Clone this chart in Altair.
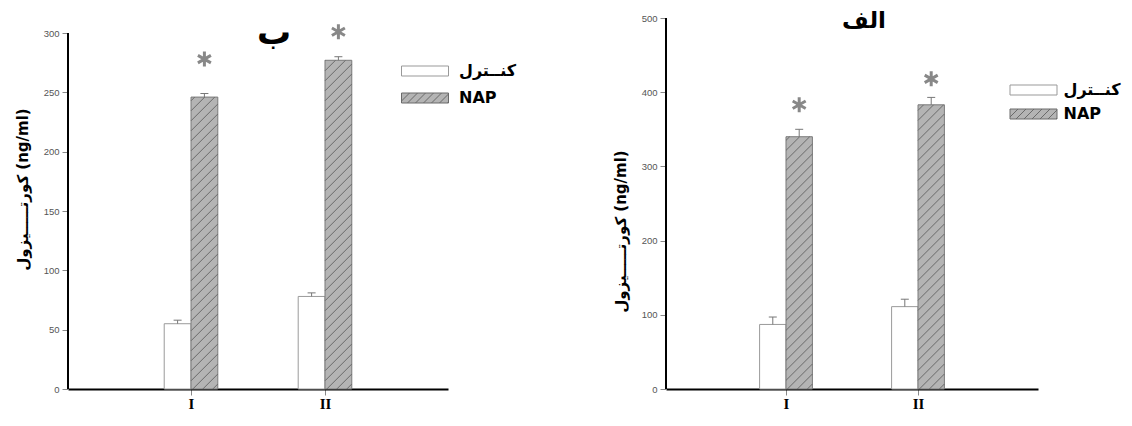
import altair as alt
import pandas as pd
import numpy as np

# ---------------- data ----------------
categories = ["I", "II"]
groups = ["کنــترل", "NAP"]

# panel "ب" (left)
b_control = [55, 78]
b_control_err = [3, 3]
b_nap = [246, 277]
b_nap_err = [3, 3]
b_star = [278, 301]
b_ticks = [0, 50, 100, 150, 200, 250, 300]

# panel "الف" (right)
a_control = [87, 111]
a_control_err = [10, 10]
a_nap = [340, 383]
a_nap_err = [10, 10]
a_star = [383, 418]
a_ticks = [0, 100, 200, 300, 400, 500]

y_title = "کورتـــــیزول (ng/ml)"

# ---------------- style ----------------
BAR_W = 0.2
NAP_FILL = "#b4b4b4"
HATCH = "#6a6a6a"
STAR_PATH = "M0,-1L0,1M-0.866,-0.5L0.866,0.5M-0.866,0.5L0.866,-0.5"


def legend_paths():
    hw, hh = 4.7, 1.0
    rect = f"M{-hw},{-hh}H{hw}V{hh}H{-hw}Z"
    lines = []
    s = -hw - 2.0
    while s < hw:
        t0 = max(0.0, (-hw - s) / 2.0)
        t1 = min(1.0, (hw - s) / 2.0)
        if t1 > t0:
            xa, ya = s + 2 * t0, hh - 2 * t0
            xb, yb = s + 2 * t1, hh - 2 * t1
            lines.append(f"M{xa:.3f},{ya:.3f}L{xb:.3f},{yb:.3f}")
        s += 1.6
    return rect, rect + "".join(lines)


RECT_PATH, HATCH_PATH = legend_paths()


def panel(title_text, title_size, control, cerr, nap, nerr, star, ticks, ydom_max,
          xpad, width, height, legend_x, legend_y, label_offset, row_pad,
          title_offset, title_dx, ytitle_y):
    xs = alt.Scale(domain=[xpad, 3 - xpad], nice=False, zero=False)
    ys = alt.Scale(domain=[0, ydom_max], nice=False, zero=False)
    ppu = height / ydom_max
    ppx = width / (3 - 2 * xpad)

    rows = []
    for i, c in enumerate(categories):
        pos = i + 1
        for g, vals, errs, x0 in ((groups[0], control, cerr, pos - BAR_W),
                                   (groups[1], nap, nerr, pos)):
            xc = x0 + BAR_W / 2
            rows.append(dict(cat=c, group=g, x0=x0, x1=x0 + BAR_W, xc=xc,
                             value=vals[i], top=vals[i] + errs[i],
                             cl=xc - 4 / ppx, cr=xc + 4 / ppx,
                             star=star[i] if g == groups[1] else None))
    bars = pd.DataFrame(rows)

    # hatch texture for NAP bars (diagonal "/" lines at ~45deg, ~10px apart)
    rise = (BAR_W * ppx) / ppu
    step = 10 / ppu
    seg = []
    for r in rows:
        if r["group"] != groups[1]:
            continue
        x0, x1, v = r["x0"], r["x1"], r["value"]
        c = -rise + step / 2
        while c < v:
            t0 = max(0.0, (0 - c) / rise)
            t1 = min(1.0, (v - c) / rise)
            if t1 > t0:
                seg.append(dict(hx0=x0 + t0 * (x1 - x0), hy0=c + t0 * rise,
                                hx1=x0 + t1 * (x1 - x0), hy1=c + t1 * rise))
            c += step
    hatch = pd.DataFrame(seg)

    label_expr = "[" + ",".join(f"'{c}'" for c in categories) + "][datum.value - 1]"
    xaxis = alt.Axis(values=[1, 2], labelExpr=label_expr, title=None, grid=False,
                     labelFont="Liberation Serif", labelFontSize=15,
                     labelFontWeight="bold", labelColor="black",
                     tickColor="#888", tickSize=6, tickWidth=1,
                     domainColor="black", domainWidth=2, labelPadding=1)
    yaxis = alt.Axis(values=ticks, grid=False, domain=False, title=y_title,
                     titleFont="DejaVu Sans", titleFontSize=15,
                     titleFontWeight="bold", titleColor="black",
                     titleY=ytitle_y, titleAngle=-90, titlePadding=13,
                     labelFont="Liberation Sans", labelFontSize=9.5,
                     labelColor="#555", tickColor="#888", tickSize=6,
                     tickWidth=1, labelPadding=3)

    base = alt.Chart(bars)
    bar_layer = base.mark_rect(strokeWidth=1).encode(
        x=alt.X("x0:Q", scale=xs, axis=xaxis),
        x2="x1:Q",
        y=alt.Y("value:Q", scale=ys, axis=yaxis),
        y2=alt.Y2(datum=0),
        fill=alt.condition(alt.datum.group == groups[1], alt.value(NAP_FILL),
                           alt.value("white")),
        stroke=alt.condition(alt.datum.group == groups[1], alt.value("#7a7a7a"),
                             alt.value("#9a9a9a")),
    )
    hatch_layer = alt.Chart(hatch).mark_rule(color=HATCH, strokeWidth=1).encode(
        x="hx0:Q", x2="hx1:Q", y="hy0:Q", y2="hy1:Q")
    err_layer = base.mark_rule(color="#777", strokeWidth=1).encode(
        x="xc:Q", y="value:Q", y2="top:Q")
    cap_layer = base.mark_rule(color="#777", strokeWidth=1).encode(
        x="cl:Q", x2="cr:Q", y="top:Q")
    star_layer = base.transform_filter("isValid(datum.star)").mark_point(
        shape=STAR_PATH, size=225, filled=False, color="#888",
        strokeWidth=3, opacity=1).encode(x="xc:Q", y="star:Q")
    yline = alt.Chart(bars).mark_rule(color="black", strokeWidth=2).encode(
        x=alt.X(datum=xpad), y=alt.Y(datum=0), y2=alt.Y2(datum=ticks[-1]))

    leg = alt.Legend(orient="none", legendX=legend_x, legendY=legend_y,
                     title=None, symbolSize=100, labelFont="DejaVu Sans",
                     labelFontSize=16, labelFontWeight="bold",
                     labelColor="black", labelOffset=label_offset,
                     rowPadding=row_pad, symbolStrokeWidth=1, padding=0,
                     labelLimit=300, symbolOpacity=1)
    legend_layer = base.transform_filter("false").mark_point(
        filled=True, strokeWidth=1, size=100, opacity=1).encode(
        shape=alt.Shape("group:N", scale=alt.Scale(domain=groups,
                        range=[RECT_PATH, HATCH_PATH]), legend=leg),
        fill=alt.Fill("group:N", scale=alt.Scale(domain=groups,
                      range=["white", NAP_FILL]), legend=leg),
        stroke=alt.Stroke("group:N", scale=alt.Scale(domain=groups,
                          range=["#999999", "#6a6a6a"]), legend=leg),
    )

    return alt.layer(bar_layer, hatch_layer, err_layer, cap_layer, star_layer,
                     yline, legend_layer).properties(
        width=width, height=height,
        title=alt.TitleParams(title_text, font="DejaVu Sans", fontSize=title_size,
                              fontWeight="bold", color="black", anchor="middle",
                              offset=title_offset, dx=title_dx))


H = 371
left = panel("ب", 34, b_control, b_control_err, b_nap, b_nap_err, b_star, b_ticks,
             ydom_max=300 * 371 / 356, xpad=0.082, width=380, height=H,
             legend_x=349, legend_y=45, label_offset=26, row_pad=11,
             title_offset=-33, title_dx=16, ytitle_y=171)
right = panel("الف", 23, a_control, a_control_err, a_nap, a_nap_err, a_star, a_ticks,
              ydom_max=500, xpad=0.091, width=372, height=H,
              legend_x=359.5, legend_y=64, label_offset=22, row_pad=8,
              title_offset=-20, title_dx=12, ytitle_y=213)

chart = alt.hconcat(left, right, spacing=96).resolve_scale(
    shape="independent", fill="independent", stroke="independent",
    x="independent", y="independent"
).resolve_legend(shape="independent", fill="independent",
                 stroke="independent").configure_view(
    stroke=None).properties(padding={"left": 7, "top": 2, "right": 0, "bottom": 0})

chart.save("out.html", embed_options={"renderer": "svg", "actions": False})
